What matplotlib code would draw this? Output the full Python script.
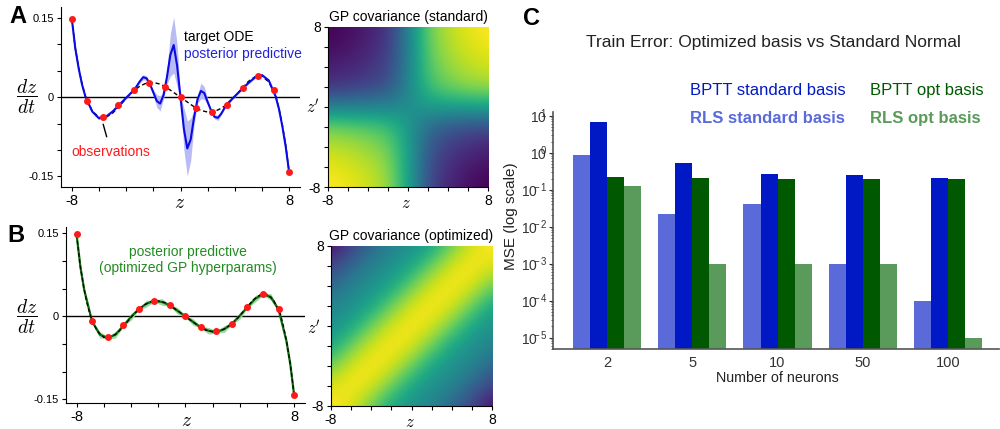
import numpy as np
import matplotlib
matplotlib.use('Agg')
import matplotlib.pyplot as plt
from matplotlib.ticker import FuncFormatter

plt.rcParams['font.family'] = 'Liberation Sans'
plt.rcParams['mathtext.fontset'] = 'custom'
plt.rcParams['mathtext.rm'] = 'Liberation Sans'
plt.rcParams['mathtext.it'] = 'Liberation Sans:italic'
plt.rcParams['mathtext.bf'] = 'Liberation Sans:bold'

# ---------------- data ----------------
# observations (red dots), shared by A and B
z_obs = [-8.00, -6.86, -5.71, -4.57, -3.43, -2.29, -1.14, 0.00,
         1.14, 2.29, 3.43, 4.57, 5.71, 6.86, 8.00]
dzdt_obs = [0.148, -0.008, -0.038, -0.015, 0.014, 0.027, 0.020, 0.000,
            -0.020, -0.027, -0.014, 0.017, 0.041, 0.013, -0.142]

# target ODE (dashed black)
z_target = [-8, -7.75, -7.5, -7.25, -7, -6.5, -6, -5.5, -5, -4.5, -4, -3.5, -3,
            -2.5, -2, -1.5, -1, -0.5, 0, 0.5, 1, 1.5, 2, 2.5, 3, 3.5, 4, 4.5,
            5, 5.5, 6, 6.5, 7, 7.25, 7.5, 7.75, 8]
dzdt_target = [0.148, 0.094, 0.056, 0.025, 0.002, -0.026, -0.038, -0.038, -0.030,
               -0.017, -0.002, 0.011, 0.021, 0.027, 0.028, 0.025, 0.018, 0.009,
               0.000, -0.009, -0.018, -0.025, -0.028, -0.027, -0.021, -0.012,
               0.001, 0.016, 0.030, 0.039, 0.040, 0.029, 0.004, -0.021, -0.053,
               -0.091, -0.142]

# panel A: posterior predictive, standard GP (mean and band half-width)
z_std = [-8, -7.75, -7.5, -7.25, -7, -6.5, -6, -5.5, -5, -4.5, -4, -3.5,
         -3.25, -3, -2.75, -2.5, -2.25, -2, -1.75, -1.5, -1.25, -1, -0.75, -0.5,
         -0.25, 0, 0.25, 0.5, 0.75, 1, 1.25, 1.5, 1.75, 2, 2.25, 2.5, 2.75, 3,
         3.25, 3.5, 4, 4.5, 5, 5.5, 6, 6.5, 7, 7.25, 7.5, 7.75, 8]
mean_std = [0.148, 0.093, 0.055, 0.024, 0.001, -0.027, -0.040, -0.037, -0.027,
            -0.014, -0.001, 0.012, 0.020, 0.030, 0.038, 0.036, 0.025, 0.009,
            -0.007, -0.012, 0.004, 0.038, 0.080, 0.099, 0.060, 0.000, -0.060,
            -0.097, -0.080, -0.038, -0.004, 0.012, 0.008, -0.009, -0.025, -0.037,
            -0.039, -0.031, -0.020, -0.011, 0.002, 0.015, 0.027, 0.038, 0.042,
            0.032, 0.002, -0.022, -0.055, -0.094, -0.142]
band_std = [0.002, 0.002, 0.002, 0.002, 0.002, 0.002, 0.002, 0.002, 0.002,
            0.002, 0.002, 0.002, 0.002, 0.003, 0.005, 0.004, 0.002, 0.005,
            0.012, 0.014, 0.007, 0.014, 0.040, 0.053, 0.040, 0.003, 0.040,
            0.052, 0.040, 0.014, 0.007, 0.015, 0.012, 0.005, 0.002, 0.004,
            0.005, 0.003, 0.002, 0.002, 0.002, 0.002, 0.002, 0.002, 0.002,
            0.002, 0.002, 0.002, 0.002, 0.002, 0.002]

# panel B: posterior predictive, optimized GP
z_opt = [-8.00, -7.71, -7.43, -6.86, -6.29, -5.71, -5.14, -4.57, -4.00, -3.43,
         -2.86, -2.29, -1.71, -1.14, -0.57, 0.00, 0.57, 1.14, 1.71, 2.29, 2.86,
         3.43, 4.00, 4.57, 5.14, 5.71, 6.29, 6.86, 7.43, 7.71, 8.00]
mean_opt = [0.148, 0.088, 0.047, -0.009, -0.033, -0.039, -0.033, -0.017, -0.001,
            0.013, 0.023, 0.028, 0.026, 0.020, 0.010, 0.000, -0.010, -0.020,
            -0.026, -0.028, -0.023, -0.013, 0.001, 0.017, 0.032, 0.040, 0.035,
            0.012, -0.044, -0.085, -0.142]
band_opt = [0.001, 0.003, 0.004, 0.002, 0.006, 0.002, 0.006, 0.002, 0.006, 0.002,
            0.006, 0.002, 0.006, 0.002, 0.006, 0.002, 0.006, 0.002, 0.006, 0.002,
            0.006, 0.002, 0.006, 0.002, 0.006, 0.002, 0.006, 0.002, 0.004, 0.003,
            0.001]

# GP covariance images, rows top (z'=8) to bottom (z'=-8), cols z=-8..8 step 2
cov_standard = [
    [0.00, 0.03, 0.08, 0.15, 0.43, 0.78, 0.90, 0.97, 1.00],
    [0.03, 0.05, 0.10, 0.17, 0.43, 0.76, 0.88, 0.94, 0.98],
    [0.08, 0.10, 0.14, 0.20, 0.44, 0.73, 0.84, 0.90, 0.93],
    [0.15, 0.17, 0.20, 0.26, 0.45, 0.69, 0.78, 0.83, 0.85],
    [0.43, 0.43, 0.44, 0.45, 0.49, 0.54, 0.56, 0.57, 0.58],
    [0.78, 0.76, 0.73, 0.69, 0.54, 0.35, 0.28, 0.24, 0.23],
    [0.90, 0.88, 0.84, 0.78, 0.56, 0.28, 0.18, 0.13, 0.10],
    [0.97, 0.94, 0.90, 0.83, 0.57, 0.24, 0.13, 0.07, 0.04],
    [1.00, 0.98, 0.93, 0.85, 0.58, 0.23, 0.10, 0.04, 0.00],
]
cov_optimized = [
    [0.02, 0.20, 0.32, 0.45, 0.50, 0.58, 0.78, 0.95, 1.00],
    [0.20, 0.32, 0.45, 0.50, 0.58, 0.78, 0.95, 1.00, 0.95],
    [0.32, 0.45, 0.50, 0.58, 0.78, 0.95, 1.00, 0.95, 0.78],
    [0.45, 0.50, 0.58, 0.78, 0.95, 1.00, 0.95, 0.78, 0.58],
    [0.50, 0.58, 0.78, 0.95, 1.00, 0.95, 0.78, 0.58, 0.50],
    [0.58, 0.78, 0.95, 1.00, 0.95, 0.78, 0.58, 0.50, 0.45],
    [0.78, 0.95, 1.00, 0.95, 0.78, 0.58, 0.50, 0.45, 0.32],
    [0.95, 1.00, 0.95, 0.78, 0.58, 0.50, 0.45, 0.32, 0.20],
    [1.00, 0.95, 0.78, 0.58, 0.50, 0.45, 0.32, 0.20, 0.02],
]

# panel C: train error
neurons = ['2', '5', '10', '50', '100']
rls_standard = [0.85, 0.022, 0.041, 0.001, 0.0001]
bptt_standard = [6.7, 0.52, 0.265, 0.25, 0.21]
bptt_opt = [0.22, 0.207, 0.195, 0.195, 0.195]
rls_opt = [0.126, 0.001, 0.001, 0.001, 0.00001]

# ---------------- styling ----------------
RED = '#ff1a1a'
BLUE_LINE = '#0a0ae6'
BLUE_BAND = '#b9bbf5'
BLUE_TEXT = '#2222dd'
GREEN_LINE = '#0b6e0b'
GREEN_BAND = '#a3d6a3'
GREEN_TEXT = '#238b23'
C_RLS_STD = '#5a6ad9'
C_BPTT_STD = '#0019c4'
C_BPTT_OPT = '#005900'
C_RLS_OPT = '#5a9a5a'

fig = plt.figure(figsize=(10, 4.29), dpi=100)


def style_ode_axes(ax, ylim):
    ax.set_xlim(-8.8, 8.8)
    ax.set_ylim(*ylim)
    for s in ['top', 'right']:
        ax.spines[s].set_visible(False)
    ax.set_xticks(np.arange(-8, 9, 2))
    ax.set_xticklabels(['-8', '', '', '', '', '', '', '', '8'], fontsize=10.5)
    ax.set_yticks([-0.15, -0.1, -0.05, 0, 0.05, 0.1, 0.15])
    ax.set_yticklabels(['-0.15', '', '', '0', '', '', '0.15'], fontsize=8)
    ax.tick_params(length=3, width=0.8, pad=2)
    ax.axhline(0, color='black', lw=1, zorder=1)


def style_heat_axes(ax, title):
    ax.set_xlim(-8, 8)
    ax.set_ylim(-8, 8)
    for s in ['top', 'right']:
        ax.spines[s].set_visible(False)
    ax.set_xticks(np.arange(-8, 9, 2))
    ax.set_xticklabels(['-8', '', '', '', '', '', '', '', '8'], fontsize=10)
    ax.set_yticks(np.arange(-8, 9, 2))
    ax.set_yticklabels(['-8', '', '', '', '', '', '', '', '8'], fontsize=10)
    ax.tick_params(length=3, width=0.8, pad=2)
    ax.set_title(title, fontsize=10, pad=4)


# ---- panel A ----
axA = fig.add_axes([0.061, 0.5641, 0.239, 0.4196])
style_ode_axes(axA, (-0.17, 0.171))
mA = np.array(mean_std)
bA = np.array(band_std)
axA.fill_between(z_std, mA - bA, mA + bA, color=BLUE_BAND, lw=0, zorder=2)
axA.plot(z_target, dzdt_target, color='black', lw=1, ls=(0, (3, 2)), zorder=3)
axA.plot(z_std, mean_std, color=BLUE_LINE, lw=1.5, zorder=4)
axA.plot(z_obs, dzdt_obs, 'o', color=RED, ms=4, zorder=5)
axA.text(0.515, 0.835, 'target ODE', transform=axA.transAxes, fontsize=10,
         ha='left', va='center')
axA.text(0.515, 0.74, 'posterior predictive', transform=axA.transAxes,
         fontsize=10, color=BLUE_TEXT, ha='left', va='center')
axA.text(0.045, 0.195, 'observations', transform=axA.transAxes, fontsize=10,
         color=RED, ha='left', va='center')
axA.annotate('', xy=(-5.75, -0.046), xytext=(-5.38, -0.080),
             arrowprops=dict(arrowstyle='-', color='black', lw=1))
axA.text(-0.142, 0.5, r'$\dfrac{dz}{dt}$', transform=axA.transAxes,
         math_fontfamily='cm', fontsize=14, ha='center', va='center')
axA.text(0.498, -0.09, r'$z$', transform=axA.transAxes, math_fontfamily='cm',
         fontsize=14, ha='center', va='center')

# ---- panel B ----
axB = fig.add_axes([0.0657, 0.0613, 0.2393, 0.4089])
style_ode_axes(axB, (-0.156, 0.161))
mB = np.array(mean_opt)
bB = np.array(band_opt)
axB.fill_between(z_opt, mB - bB, mB + bB, color=GREEN_BAND, lw=0, zorder=2)
axB.plot(z_opt, mean_opt, color=GREEN_LINE, lw=1.6, zorder=3)
axB.plot(z_target, dzdt_target, color='black', lw=0.9, ls=(0, (3, 2)), zorder=4)
axB.plot(z_obs, dzdt_obs, 'o', color=RED, ms=4, zorder=5)
axB.text(0.51, 0.815, 'posterior predictive\n(optimized GP hyperparams)',
         transform=axB.transAxes, fontsize=10, color=GREEN_TEXT,
         ha='center', va='center', linespacing=1.2)
axB.text(-0.162, 0.489, r'$\dfrac{dz}{dt}$', transform=axB.transAxes,
         math_fontfamily='cm', fontsize=14, ha='center', va='center')
axB.text(0.503, -0.11, r'$z$', transform=axB.transAxes, math_fontfamily='cm',
         fontsize=14, ha='center', va='center')

# ---- covariance heatmaps ----
axH1 = fig.add_axes([0.3277, 0.5634, 0.1606, 0.3744])
axH1.imshow(cov_standard, cmap='viridis', vmin=0, vmax=1, origin='upper',
            extent=(-9, 9, -9, 9), interpolation='bicubic', aspect='auto')
style_heat_axes(axH1, 'GP covariance (standard)')
axH1.text(0.49, -0.098, r'$z$', transform=axH1.transAxes, math_fontfamily='cm',
          fontsize=12, ha='center', va='center')
axH1.text(-0.092, 0.5, r"$z'$", transform=axH1.transAxes, math_fontfamily='cm',
          fontsize=12, ha='center', va='center')

axH2 = fig.add_axes([0.3307, 0.0543, 0.1617, 0.3730])
axH2.imshow(cov_optimized, cmap='viridis', vmin=0, vmax=1, origin='upper',
            extent=(-9, 9, -9, 9), interpolation='bicubic', aspect='auto')
style_heat_axes(axH2, 'GP covariance (optimized)')
axH2.text(0.49, -0.108, r'$z$', transform=axH2.transAxes, math_fontfamily='cm',
          fontsize=12, ha='center', va='center')
axH2.text(-0.103, 0.486, r"$z'$", transform=axH2.transAxes, math_fontfamily='cm',
          fontsize=12, ha='center', va='center')

# ---- panel C ----
axC = fig.add_axes([0.5533, 0.1872, 0.4457, 0.5524])
axC.set_yscale('log')
x = np.arange(len(neurons))
w = 0.2
axC.bar(x - 1.5 * w, rls_standard, w, color=C_RLS_STD)
axC.bar(x - 0.5 * w, bptt_standard, w, color=C_BPTT_STD)
axC.bar(x + 0.5 * w, bptt_opt, w, color=C_BPTT_OPT)
axC.bar(x + 1.5 * w, rls_opt, w, color=C_RLS_OPT)
axC.set_xlim(-0.633, 4.6)
axC.set_ylim(5e-6, 12.8)
axC.set_xticks(x)
axC.set_xticklabels(neurons, fontsize=10.5)


def decade_label(v, pos):
    e = int(round(np.log10(v)))
    return r'$\mathdefault{10^{\hspace{-0.6}%d}}$' % e


axC.yaxis.set_major_formatter(FuncFormatter(decade_label))
for s in ['top', 'right']:
    axC.spines[s].set_visible(False)
for s in ['left', 'bottom']:
    axC.spines[s].set_color('#555555')
    axC.spines[s].set_linewidth(1.2)
axC.tick_params(axis='x', length=0, pad=5, colors='#333333')
axC.tick_params(axis='y', which='major', length=3, pad=1, labelsize=10,
                colors='#333333')
axC.tick_params(axis='y', which='minor', length=1.5, colors='#333333')
axC.text(-0.094, 0.56, 'MSE (log scale)', transform=axC.transAxes, rotation=90,
         fontsize=11, ha='center', va='center', color='#222222')
axC.text(0.502, -0.124, 'Number of neurons', transform=axC.transAxes,
         fontsize=10.3, ha='center', va='center', color='#222222')

fig.text(0.773, 0.8998, 'Train Error: Optimized basis vs Standard Normal',
         fontsize=12.5, ha='center', va='center', color='#222222')
fig.text(0.690, 0.7879, 'BPTT standard basis', fontsize=12, color=C_BPTT_STD,
         ha='left', va='center')
fig.text(0.690, 0.7249, 'RLS standard basis', fontsize=12, color=C_RLS_STD,
         weight='bold', ha='left', va='center')
fig.text(0.870, 0.7879, 'BPTT opt basis', fontsize=12, color=C_BPTT_OPT,
         ha='left', va='center')
fig.text(0.870, 0.7249, 'RLS opt basis', fontsize=12, color=C_RLS_OPT,
         weight='bold', ha='left', va='center')

# panel letters
fig.text(0.0175, 0.9615, 'A', fontsize=17, weight='bold', ha='center', va='center')
fig.text(0.016, 0.4522, 'B', fontsize=17, weight='bold', ha='center', va='center')
fig.text(0.532, 0.958, 'C', fontsize=17, weight='bold', ha='center', va='center')

fig.savefig('out.png', dpi=100)
